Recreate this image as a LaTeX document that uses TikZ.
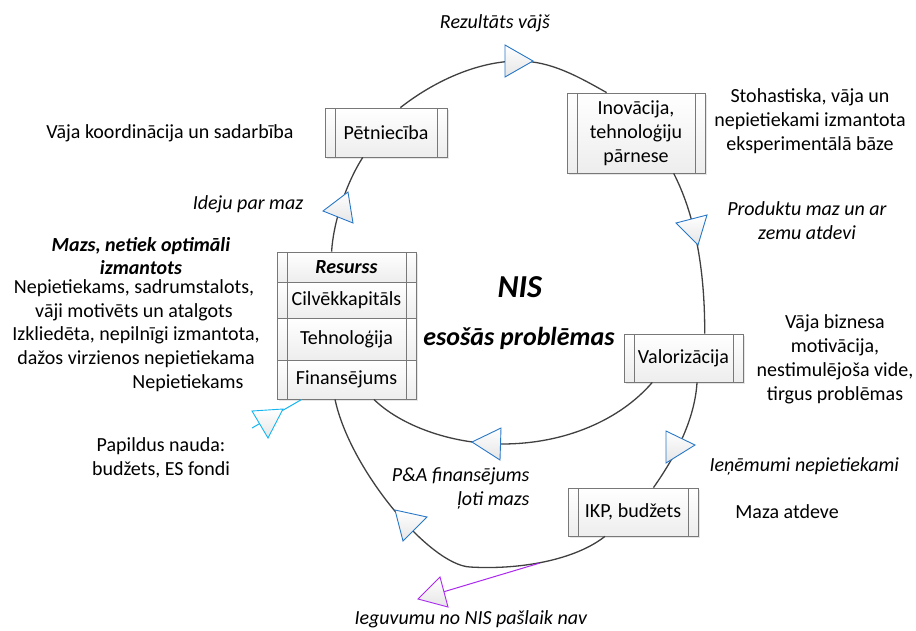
\documentclass[tikz,border=0pt]{standalone}
\usepackage{fontspec}
\setmainfont{Carlito}
\usepackage{tikz}
\usetikzlibrary{shadows}
\definecolor{flowgray}{RGB}{64,64,64}
\definecolor{boxgray}{RGB}{120,120,120}
\definecolor{triblue}{RGB}{40,120,200}
\definecolor{tricyan}{RGB}{20,180,240}
\definecolor{tripurple}{RGB}{170,40,240}
\tikzstyle{box}=[draw=boxgray, line width=0.8pt, top color=white, bottom color=gray!14, align=center, inner sep=2pt,
  drop shadow={opacity=0.2, shadow xshift=2pt, shadow yshift=-2pt},
  path picture={\draw[boxgray, line width=0.8pt]
    ([xshift=10pt]path picture bounding box.north west) -- ([xshift=10pt]path picture bounding box.south west)
    ([xshift=-10pt]path picture bounding box.north east) -- ([xshift=-10pt]path picture bounding box.south east);}]
\tikzstyle{row}=[box, minimum width=139pt]
\tikzstyle{flow}=[draw=flowgray, line width=1.3pt]
\tikzstyle{tri}=[line width=0.9pt, top color=white, bottom color=gray!20, line join=miter]
\tikzstyle{note}=[draw=none, align=center]

\begin{document}
\begin{tikzpicture}[x=1pt, y=-1pt, font=\fontsize{20pt}{24pt}\selectfont]
		\useasboundingbox (0,0) rectangle (916,630);
		
		% First we draw the process boxes
		\node[box, minimum width=122pt, minimum height=49pt] (pet) at (386,132.5) {Pētniecība};
		\node[box, minimum width=138pt, minimum height=80pt] (ino) at (636,133) {Inovācija,\\tehnoloģiju\\pārnese};
		\node[box, minimum width=119pt, minimum height=48pt] (val) at (683.5,358) {Valorizācija};
		\node[box, minimum width=130pt, minimum height=48pt] (ikp) at (633,512) {IKP, budžets};
		
		\foreach \name/\y/\h/\txt in {
			res/267/30/\textbf{\textit{Resurss}}, cap/300/36/Cilvēkkapitāls,
			teh/339/42/Tehnoloģija, fin/379.5/39/Finansējums}
		\node[row, minimum height=\h pt] (\name) at (346.5,\y) {\txt};
		
		% Connect boxes with curves
		\draw[flow] (pet.60) .. controls (433,82) and (477,61) .. (519,61)
			.. controls (551,61) and (579,77) .. (ino.126);
		\draw[flow] (ino.-47) .. controls (690,205) and (705,255) .. (val.49);
		\draw[flow] (val.218) .. controls (620,420) and (565,444) .. (502,444)
			.. controls (450,444) and (400,425) .. (fin.-36);
		\draw[flow] (res.134) .. controls (333,225) and (345,185) .. (pet.227);
		\draw[flow] (val.-61) .. controls (695,415) and (680,450) .. (ikp.50);
		\draw[flow] (ikp.221) .. controls (575,560) and (520,570) .. (470,567)
			.. controls (430,565) and (350,470) .. (fin.-120);
		
		\coordinate (extra) at (252,428);
		\draw[tricyan, line width=1pt] (fin.204) -- (extra);
		\coordinate (gain) at (540,563);
		\coordinate (gainend) at (443,592);
		\draw[tripurple, line width=1pt] (gain) -- (gainend);
		
		% Triangles on the curves
		\foreach \a/\b/\c/\col in {
			{(505,45)/(505,77)/(533,61)/triblue}, {(323,211)/(348,192)/(353,223)/triblue},
			{(676,223)/(707,215)/(698,245)/triblue}, {(472,442)/(501,428)/(500,460)/triblue},
			{(666,431)/(666,463)/(695,445)/triblue}, {(395,510)/(427,517)/(403,541)/triblue},
			{(252,411)/(283,409)/(268,438)/tricyan}, {(440,577)/(418,599)/(448,607)/tripurple}}
		\draw[tri, draw=\col] \a -- \b -- \c -- cycle;
		
		% Labels
		\node[note] (result) at (495,23) {\textit{Rezultāts vājš}};
		\node[note] (coord) at (170,133) {Vāja koordinācija un sadarbība};
		\node[note] (stoh) at (810,121) {Stohastiska, vāja un\\nepietiekami izmantota\\eksperimentālā bāze};
		\node[note] (ideas) at (248,204) {\textit{Ideju par maz}};
		\node[note] (prod) at (807,221) {\textit{Produktu maz un ar}\\\textit{zemu atdevi}};
		\node[note, font=\fontsize{20pt}{22.5pt}\selectfont] (small) at (141,256) {\textbf{\textit{Mazs, netiek optimāli}}\\\textbf{\textit{izmantots}}};
		\node[note] (human) at (134,300.5) {Nepietiekams, sadrumstalots,\\vāji motivēts un atalgots};
		\node[note] (techno) at (136,347) {Izkliedēta, nepilnīgi izmantota,\\dažos virzienos nepietiekama};
		\node[note] (money) at (188,383) {Nepietiekams};
		\node[note, font=\fontsize{32pt}{36pt}\selectfont] (nis) at (520,287) {\textbf{\textit{NIS}}};
		\node[note, font=\fontsize{26pt}{30pt}\selectfont] (probl) at (519,338) {\textbf{\textit{esošās problēmas}}};
		\node[note] (biz) at (835,359) {Vāja biznesa\\motivācija,\\nestimulējoša vide,\\tirgus problēmas};
		\node[note, anchor=west] (income) at (706,466) {\textit{Ieņēmumi nepietiekami}};
		\node[note] (ret) at (787,512) {Maza atdeve};
		\node[note, anchor=east, align=right] (rd) at (533,488) {\textit{P\&A finansējums}\\\textit{ļoti mazs}};
		\node[note] (extra money) at (161,458) {Papildus nauda:\\budžets, ES fondi};
		\node[note] (gains) at (471,619) {\textit{Ieguvumu no NIS pašlaik nav}};
\end{tikzpicture}
\end{document}
